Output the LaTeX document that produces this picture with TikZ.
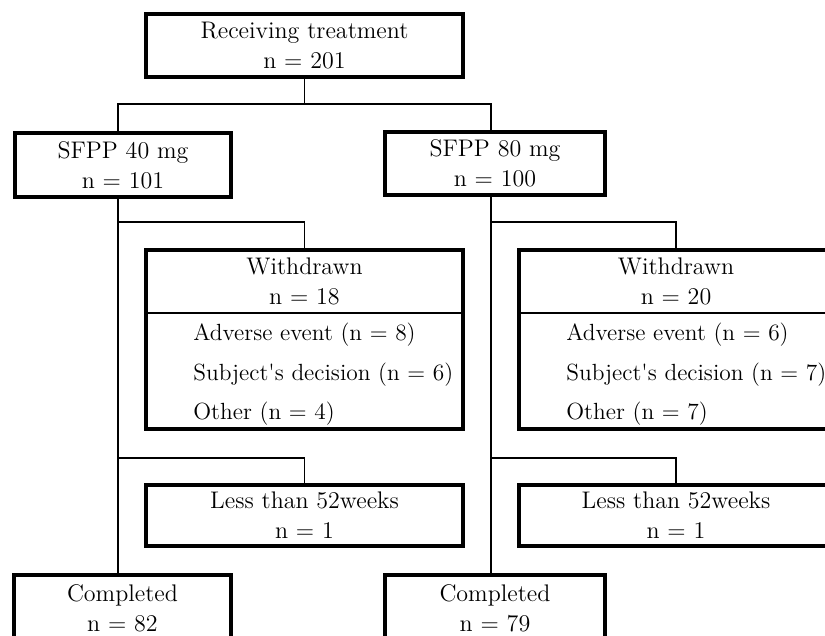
\documentclass[tikz,border=0pt]{standalone}
\usepackage{tikz}
\usetikzlibrary{positioning, calc}

\tikzset{
  box/.style={draw, line width=2pt, inner sep=0pt, align=center,
    font=\fontsize{12}{15}\selectfont},
  link/.style={draw, line width=0.55pt},
  divider/.style={draw, line width=0.8pt},
  item/.style={inner sep=0pt, anchor=base west, font=\fontsize{11.7}{15}\selectfont}
}

\begin{document}
\begin{tikzpicture}[x=0.5pt, y=-0.5pt]
  \useasboundingbox (0,0) rectangle (825,636);
  \clip (0,0) rectangle (825,636);

  % boxes
  \node[box, minimum width=158.5pt, minimum height=31.5pt] (top) at (304.5,45.5) {Receiving treatment\\n = 201};
  \node[box, minimum width=108pt, minimum height=32pt] (g40) at (123,165) {SFPP 40 mg\\n = 101};
  \node[box, minimum width=110pt, minimum height=31.5pt] (g80) at (495,163.5) {SFPP 80 mg\\n = 100};

  \node[box, minimum width=158.5pt, minimum height=89.5pt] (wd40) at (304.5,339.5) {};
  \node[box, minimum width=157pt, minimum height=89.5pt] (wd80) at (676,339.5) {};
  \node[box, draw=none] (wh40) at (304.5,281.5) {Withdrawn\\n = 18};
  \node[box, draw=none] (wh80) at (676,281.5) {Withdrawn\\n = 20};
  \draw[divider] (wd40.west |- 0,313) -- (wd40.east |- 0,313);
  \draw[divider] (wd80.west |- 0,313) -- (wd80.east |- 0,313);
  \foreach \txt [count=\i] in {Adverse event (n = 8), Subject\textquotesingle s decision (n = 6), Other (n = 4)}
    \node[item] (r40-\i) at (193,302+39*\i) {\txt};
  \foreach \txt [count=\i] in {Adverse event (n = 6), Subject\textquotesingle s decision (n = 7), Other (n = 7)}
    \node[item] (r80-\i) at (566,302+39*\i) {\txt};

  \node[box, minimum width=158.5pt, minimum height=30.5pt] (lt40) at (304.5,515.5) {Less than 52weeks\\n = 1};
  \node[box, minimum width=157pt, minimum height=30.5pt] (lt80) at (676,515.5) {Less than 52weeks\\n = 1};

  \node[box, minimum width=108.5pt, minimum height=33pt] (cp40) at (122.5,608) {Completed\\n = 82};
  \node[box, minimum width=110pt, minimum height=33pt] (cp80) at (495,608) {Completed\\n = 79};

  % connectors
  \coordinate (s40) at (118,104);
  \coordinate (s80) at (491,104);
  \draw[link] (top.south) |- (s40) -- (s40 |- g40.north);
  \draw[link] (top.south) |- (s80) -- (s80 |- g80.north);
  \foreach \g in {40,80} {
    \draw[link] (s\g |- g\g.south) -- (s\g |- cp\g.north);
    \coordinate (wj\g) at (s\g |- 0,222);
    \coordinate (lj\g) at (s\g |- 0,458);
    \draw[link] (wj\g) -| (wd\g.north);
    \draw[link] (lj\g) -| (lt\g.north);
  }
\end{tikzpicture}
\end{document}
